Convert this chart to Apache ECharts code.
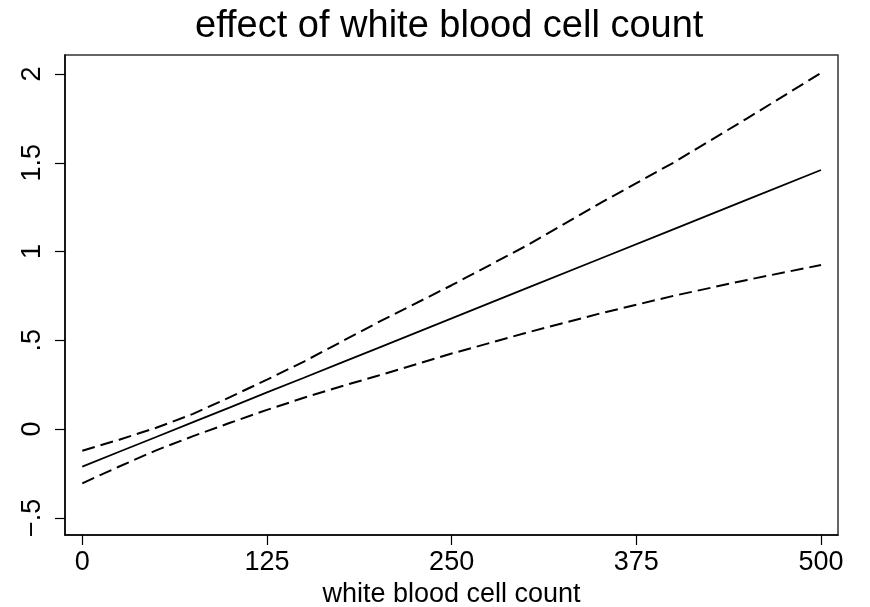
<!DOCTYPE html>
<html>
<head>
<meta charset="utf-8">
<script src="https://cdn.jsdelivr.net/npm/echarts@6/dist/echarts.min.js"></script>
<style>
html,body{margin:0;padding:0;background:#fff;}
#chart{width:870px;height:607px;}
</style>
</head>
<body>
<div id="chart"></div>
<script>
var titleText = 'effect of white blood cell count';
var xAxisName = 'white blood cell count';
var wbc = [0, 25, 50, 75, 100, 125, 150, 175, 200, 250, 300, 350, 400, 450, 500];
var fitted = [-0.212, -0.128, -0.045, 0.039, 0.122, 0.206, 0.289, 0.373, 0.456, 0.623, 0.791, 0.958, 1.125, 1.292, 1.459];
var upperCI = [-0.122, -0.06, 0.007, 0.085, 0.18, 0.278, 0.38, 0.49, 0.60, 0.81, 1.03, 1.27, 1.50, 1.75, 2.006];
var lowerCI = [-0.306, -0.211, -0.12, -0.04, 0.035, 0.108, 0.176, 0.24, 0.30, 0.425, 0.541, 0.65, 0.75, 0.84, 0.924];
var xTicks = [0, 125, 250, 375, 500];
var yTicks = [-0.5, 0, 0.5, 1, 1.5, 2];
var yTickLabels = ['\u2212.5', '0', '.5', '1', '1.5', '2'];

function pairs(xs, ys) { return xs.map(function (x, i) { return [x, ys[i]]; }); }

var font = '"Liberation Sans", Arial, Helvetica, sans-serif';
var chart = echarts.init(document.getElementById('chart'), null, {renderer: 'canvas'});
chart.setOption({
  animation: false,
  backgroundColor: '#fff',
  title: {
    text: titleText,
    left: 195, top: 8, padding: 0,
    textStyle: {fontFamily: font, fontSize: 38, fontWeight: 'normal', color: '#000'}
  },
  grid: {left: 65, right: 32, top: 55, bottom: 72, containLabel: false, outerBoundsMode: 'none', show: true, borderColor: '#333', borderWidth: 1.5, backgroundColor: '#fff'},
  xAxis: {
    type: 'value', min: -11.7, max: 511.5,
    name: xAxisName, nameLocation: 'middle', nameGap: 43,
    nameTextStyle: {fontFamily: font, fontSize: 27, color: '#000'},
    axisLine: {show: true, onZero: false, lineStyle: {color: '#000', width: 1.5}},
    axisTick: {show: true, length: 10, customValues: xTicks, lineStyle: {color: '#000', width: 1.2}},
    axisLabel: {show: true, margin: 14, customValues: xTicks, fontFamily: font, fontSize: 27, color: '#000'},
    splitLine: {show: false}
  },
  yAxis: {
    type: 'value', min: -0.597, max: 2.107,
    axisLine: {show: true, onZero: false, lineStyle: {color: '#000', width: 1.5}},
    axisTick: {show: true, length: 10, customValues: yTicks, lineStyle: {color: '#000', width: 1.2}},
    axisLabel: {
      show: true, margin: 19, rotate: 90, customValues: yTicks,
      fontFamily: font, fontSize: 27, color: '#000',
      formatter: function (v) {
        for (var i = 0; i < yTicks.length; i++) { if (Math.abs(yTicks[i] - v) < 1e-9) return yTickLabels[i]; }
        return '';
      }
    },
    splitLine: {show: false}
  },
  series: [
    {type: 'line', data: pairs(wbc, upperCI), showSymbol: false, symbol: 'none', lineStyle: {color: '#000', width: 2, type: [13, 6]}},
    {type: 'line', data: pairs(wbc, lowerCI), showSymbol: false, symbol: 'none', lineStyle: {color: '#000', width: 2, type: [13, 6]}},
    {type: 'line', data: pairs(wbc, fitted), showSymbol: false, symbol: 'none', lineStyle: {color: '#000', width: 1.8}}
  ]
});
</script>
</body>
</html>
